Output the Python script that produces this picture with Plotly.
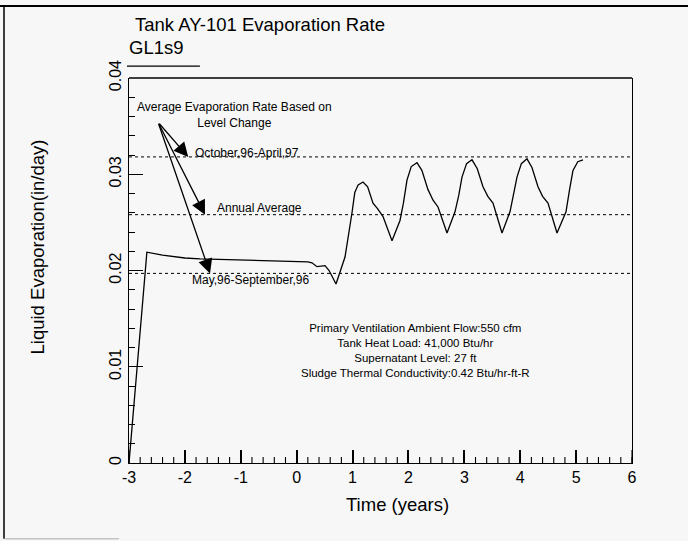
import plotly.graph_objects as go

# Simulated liquid evaporation rate (GL1s9)
time_years = [-3.0, -2.68, -2.4, -2.0, -1.73, -1.2, -0.5, 0.06, 0.2, 0.274, 0.364, 0.507, 0.58, 0.704,
              0.865, 0.99, 1.04, 1.10, 1.187, 1.27, 1.366, 1.45, 1.545, 1.706, 1.78, 1.849, 1.91,
              1.974, 2.05, 2.153, 2.24, 2.35, 2.44, 2.529, 2.69, 2.76, 2.833, 2.90, 2.958, 3.04,
              3.137, 3.23, 3.334, 3.42, 3.513, 3.674, 3.75, 3.817, 3.88, 3.942, 4.02, 4.121, 4.21,
              4.318, 4.40, 4.497, 4.658, 4.74, 4.819, 4.88, 4.944, 5.03, 5.123]
evap_rate = [0.0, 0.0219, 0.0216, 0.0213, 0.0212, 0.0211, 0.0210, 0.0209, 0.0209, 0.0208, 0.0204,
             0.0205, 0.0200, 0.0186, 0.0214, 0.0260, 0.0281, 0.0289, 0.0292, 0.0287, 0.0270,
             0.0264, 0.0256, 0.0231, 0.0243, 0.0252, 0.0270, 0.0294, 0.0308, 0.0312, 0.0304,
             0.0284, 0.0273, 0.0266, 0.0239, 0.0250, 0.0261, 0.0278, 0.0297, 0.0311, 0.0315,
             0.0306, 0.0287, 0.0277, 0.0270, 0.0239, 0.0250, 0.0261, 0.0279, 0.0297, 0.0311,
             0.0316, 0.0307, 0.0287, 0.0277, 0.0270, 0.0239, 0.0250, 0.0261, 0.0283, 0.0304,
             0.0313, 0.0315]

# Average rates based on level change
avg_labels = ["October,96-April,97", "Annual Average", "May,96-September,96"]
avg_values = [0.0318, 0.0258, 0.0197]

# axis ticks
x_tickvals = [-3, -2, -1, 0, 1, 2, 3, 4, 5, 6]
x_ticktext = ["-3", "-2", "-1", "0", "1", "2", "3", "4", "5", "6"]
x_minor_ticks = [round(-3 + 0.2 * i, 1) for i in range(46)]
y_tickvals = [0, 0.01, 0.02, 0.03, 0.04]
y_ticktext = ["0", "0.01", "0.02", "0.03", "0.04"]

x_range = [-3, 6]
y_range = [0, 0.04]

fig = go.Figure()

for val in avg_values:
    fig.add_trace(go.Scatter(
        x=x_range, y=[val, val], mode="lines",
        line=dict(color="black", width=1, dash="dot"),
        showlegend=False, hoverinfo="skip"
    ))

fig.add_trace(go.Scatter(
    x=time_years, y=evap_rate, mode="lines",
    line=dict(color="black", width=1.3),
    name="GL1s9", showlegend=False
))

# tick marks along the time axis (drawn upward from y=0)
for positions, length in [(x_minor_ticks, 0.00062), (x_tickvals, 0.00135)]:
    fig.add_trace(go.Scatter(
        x=positions, y=[0] * len(positions), mode="markers",
        marker=dict(size=1, color="rgba(0,0,0,0)"),
        error_y=dict(type="constant", value=length, valueminus=0, symmetric=False,
                     width=0, thickness=1.1, color="black"),
        showlegend=False, hoverinfo="skip", cliponaxis=False
    ))

font_main = "Liberation Sans, Arial, sans-serif"

# arrows from the note to each average line
arrow_origin = (-2.48, 0.0354)
arrow_tips = [(-1.94, 0.0318), (-1.64, 0.0258), (-1.55, 0.0197)]
for tx, ty in arrow_tips:
    fig.add_annotation(
        x=tx, y=ty, ax=arrow_origin[0], ay=arrow_origin[1],
        xref="x", yref="y", axref="x", ayref="y",
        showarrow=True, arrowhead=2, arrowsize=2.2, arrowwidth=1.3,
        arrowcolor="black", standoff=0, text=""
    )

small = dict(family=font_main, size=12, color="black")
block = dict(family=font_main, size=11.5, color="black")
fig.add_annotation(x=-1.12, y=0.0362, xref="x", yref="y", showarrow=False,
                   text="Average Evaporation Rate Based on<br>Level Change", font=small,
                   align="center")
fig.add_annotation(x=-1.86, y=0.0322, xref="x", yref="y", showarrow=False, xanchor="left",
                   text=avg_labels[0], font=small)
fig.add_annotation(x=-1.46, y=0.0265, xref="x", yref="y", showarrow=False, xanchor="left",
                   text=avg_labels[1], font=small)
fig.add_annotation(x=-1.91, y=0.0190, xref="x", yref="y", showarrow=False, xanchor="left",
                   text=avg_labels[2], font=small)
fig.add_annotation(
    x=2.12, y=0.0117, xref="x", yref="y", showarrow=False, align="center", font=block,
    text=("Primary Ventilation Ambient Flow:550 cfm<br>Tank Heat Load: 41,000 Btu/hr<br>"
          "Supernatant Level: 27 ft<br>Sludge Thermal Conductivity:0.42 Btu/hr-ft-R")
)

# title, legend label and axis titles
big = dict(family=font_main, size=18.5, color="black")
fig.add_annotation(x=0.008, y=1.138, xref="paper", yref="paper", xanchor="left", yanchor="middle",
                   showarrow=False, text="Tank AY-101 Evaporation Rate", font=big)
fig.add_annotation(x=-0.004, y=1.078, xref="paper", yref="paper", xanchor="left", yanchor="middle",
                   showarrow=False, text="GL1s9", font=big)
fig.add_annotation(x=0.533, y=-0.109, xref="paper", yref="paper", xanchor="center", yanchor="middle",
                   showarrow=False, text="Time (years)", font=big)
fig.add_annotation(x=-0.182, y=0.561, xref="paper", yref="paper", xanchor="center", yanchor="middle",
                   showarrow=False, textangle=-90, text="Liquid Evaporation(in/day)", font=big)

shapes = [
    # top edge of the plot box
    dict(type="line", xref="paper", yref="paper", x0=0, x1=1, y0=1, y1=1,
         line=dict(color="black", width=1.3)),
    # legend sample line
    dict(type="line", xref="paper", yref="paper", x0=-0.004, x1=0.141, y0=1.031, y1=1.031,
         line=dict(color="black", width=1.3)),
    # page frame
    dict(type="line", xref="paper", yref="paper", x0=-0.26, x1=1.12, y0=1.187, y1=1.187,
         line=dict(color="black", width=2)),
    dict(type="line", xref="paper", yref="paper", x0=-0.2485, x1=-0.2485, y0=-0.197, y1=1.187,
         line=dict(color="black", width=1.5)),
    dict(type="line", xref="paper", yref="paper", x0=-0.2485, x1=-0.02, y0=-0.197, y1=-0.197,
         line=dict(color="#aaaaaa", width=1)),
]

fig.update_layout(
    width=688, height=541,
    margin=dict(l=129, r=56, t=78, b=78),
    paper_bgcolor="#f7f7f7", plot_bgcolor="#f7f7f7",
    font=dict(family=font_main, size=16, color="black"),
    showlegend=False,
    shapes=shapes,
)

fig.update_xaxes(
    range=x_range, tickmode="array", tickvals=x_tickvals, ticktext=x_ticktext,
    showgrid=False, zeroline=False,
    showline=True, linecolor="black", linewidth=1.3, mirror=False, automargin=False,
    ticks="inside", ticklen=13, tickwidth=1.5, tickcolor="black",
    tickfont=dict(size=16)
)
fig.update_yaxes(
    range=y_range, tickmode="array", tickvals=y_tickvals, ticktext=y_ticktext,
    showgrid=False, zeroline=False,
    showline=True, linecolor="black", linewidth=1.3, mirror=True, automargin=False,
    ticks="inside", ticklen=14, tickwidth=1.2, tickcolor="black", tickangle=-90,
    minor=dict(dtick=0.002, ticks="inside", ticklen=6, tickwidth=1, tickcolor="black",
               showgrid=False),
    tickfont=dict(size=16)
)

fig.write_html("out.html", config={"displayModeBar": False},
               post_script="document.body.style.margin='0';")
